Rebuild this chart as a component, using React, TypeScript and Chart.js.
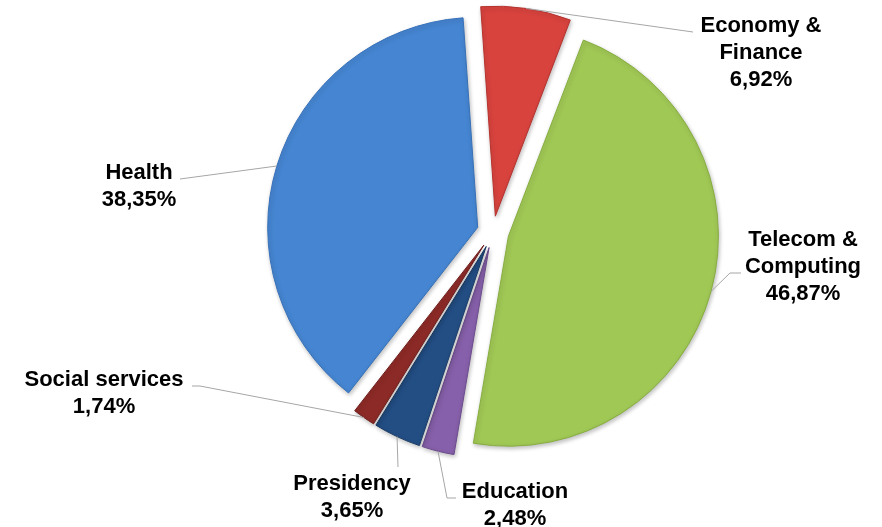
import React, { useEffect, useRef } from "react";
import { Chart, registerables, ArcElement } from "chart.js";

Chart.register(...registerables);

const categories = [
  "Economy & Finance",
  "Telecom & Computing",
  "Education",
  "Presidency",
  "Social services",
  "Health",
];
const shares = [6.92, 46.87, 2.48, 3.65, 1.74, 38.35];
const shareLabels = ["6,92%", "46,87%", "2,48%", "3,65%", "1,74%", "38,35%"];
const labelLines = [
  ["Economy &", "Finance"],
  ["Telecom &", "Computing"],
  ["Education"],
  ["Presidency"],
  ["Social services"],
  ["Health"],
];
const colors = ["#D9433E", "#A0C855", "#8660AA", "#234E84", "#8C2A27", "#4585D1"];
const borders = ["#B5322E", "#86AD40", "#6C4A8E", "#183B66", "#6E1E1C", "#3670B8"];

// label layout: text centre x, first baseline y, leader points after the arc anchor
const labelLayout = [
  { cx: 761, y: 32, pts: [[693, 32]] },
  { cx: 803, y: 246, pts: [[730, 273], [741, 273]] },
  { cx: 515, y: 498, pts: [[447, 498], [456, 498]] },
  { cx: 352, y: 490, pts: [[398, 467]] },
  { cx: 104, y: 386, pts: [[200, 386], [192, 386]] },
  { cx: 139, y: 179, pts: [[180, 179]] },
];

const EXPLODE = 16;
const LINE_H = 27;

const explodePlugin = {
  id: "explode",
  beforeDatasetsDraw(chart: any) {
    const meta = chart.getDatasetMeta(0);
    meta.data.forEach((arc: any) => {
      if (arc.__patched) return;
      arc.__patched = true;
      arc.draw = function (ctx: CanvasRenderingContext2D) {
        const mid = (this.startAngle + this.endAngle) / 2;
        ctx.save();
        ctx.translate(Math.cos(mid) * EXPLODE, Math.sin(mid) * EXPLODE);
        ctx.shadowColor = "rgba(0,0,0,0.25)";
        ctx.shadowBlur = 4;
        ctx.shadowOffsetX = 1;
        ctx.shadowOffsetY = 2;
        ArcElement.prototype.draw.call(this, ctx);
        ctx.restore();
      };
    });
  },
};

const labelPlugin = {
  id: "pieLabels",
  afterDatasetsDraw(chart: any) {
    const ctx = chart.ctx;
    const meta = chart.getDatasetMeta(0);
    ctx.save();
    meta.data.forEach((arc: any, i: number) => {
      const { x, y, startAngle, endAngle, outerRadius } = arc.getProps(
        ["x", "y", "startAngle", "endAngle", "outerRadius"],
        true
      );
      const mid = (startAngle + endAngle) / 2;
      const r = outerRadius + EXPLODE;
      const sx = x + Math.cos(mid) * r;
      const sy = y + Math.sin(mid) * r;
      const lay = labelLayout[i];
      ctx.beginPath();
      ctx.strokeStyle = "#A6A6A6";
      ctx.lineWidth = 1;
      ctx.moveTo(sx, sy);
      lay.pts.forEach((p) => ctx.lineTo(p[0], p[1]));
      ctx.stroke();

      ctx.fillStyle = "#000";
      ctx.font = 'bold 22px "Liberation Sans", Arial, sans-serif';
      ctx.textAlign = "center";
      ctx.textBaseline = "alphabetic";
      const lines = [...labelLines[i], shareLabels[i]];
      lines.forEach((t, k) => ctx.fillText(t, lay.cx, lay.y + k * LINE_H));
    });
    ctx.restore();
  },
};

export default function App() {
  const ref = useRef<HTMLCanvasElement | null>(null);
  useEffect(() => {
    if (!ref.current) return;
    const chart = new Chart(ref.current, {
      type: "pie",
      data: {
        labels: categories,
        datasets: [
          {
            data: shares,
            backgroundColor: colors,
            borderColor: borders,
            borderWidth: 1,
            offset: 0,
            hoverOffset: 0,
          },
        ],
      },
      options: {
        animation: false,
        responsive: true,
        maintainAspectRatio: false,
        rotation: -4,
        radius: 210,
        layout: { padding: { left: 104, right: 0, top: 0, bottom: 63 } },
        plugins: {
          legend: { display: false },
          tooltip: { enabled: false },
        },
        events: [],
      },
      plugins: [explodePlugin, labelPlugin],
    });
    return () => chart.destroy();
  }, []);
  return (
    <div style={{ position: "fixed", left: 0, top: 0, width: 882, height: 527, background: "#fff" }}>
      <canvas ref={ref} />
    </div>
  );
}
